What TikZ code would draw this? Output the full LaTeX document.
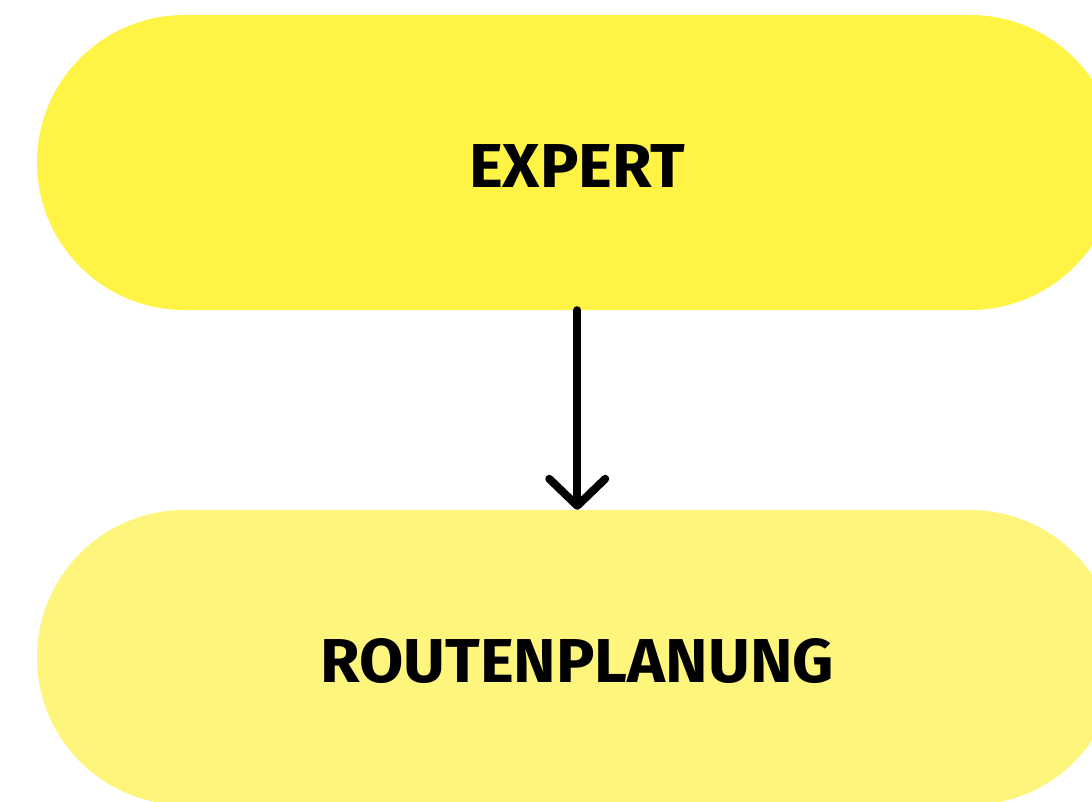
\documentclass[tikz,border=0pt]{standalone}
\usepackage{fontspec}
\setmainfont{Fira Sans}
\usetikzlibrary{arrows.meta}
\definecolor{pillA}{RGB}{255,243,69}
\definecolor{pillB}{RGB}{254,245,125}
\newcommand{\pilltext}[1]{\scalebox{1.035}[1]{#1}}
\tikzset{
  pill/.style={rectangle, rounded corners=147.5pt, minimum width=1080.5pt, minimum height=295pt, inner sep=0pt, draw=none,
    text height=50pt, text depth=0pt,
    font=\fontsize{62}{62}\selectfont\bfseries, text=black},
  conn/.style={line width=8pt, line cap=round, -{Straight Barb[length=27pt,width=56pt,round]}}
}
\begin{document}
\begin{tikzpicture}[x=1pt,y=-1pt]
\useasboundingbox (0,0) rectangle (1092,802);
\fill[white] (0,0) rectangle (1092,802);
\node[pill, fill=pillA] (expert) at (577.25,162.5) {\pilltext{EXPERT}};
\node[pill, fill=pillB] (route) at (577.25,657.5) {\pilltext{ROUTENPLANUNG}};
\draw[conn] (expert.south) -- (route.north);
\end{tikzpicture}
\end{document}
